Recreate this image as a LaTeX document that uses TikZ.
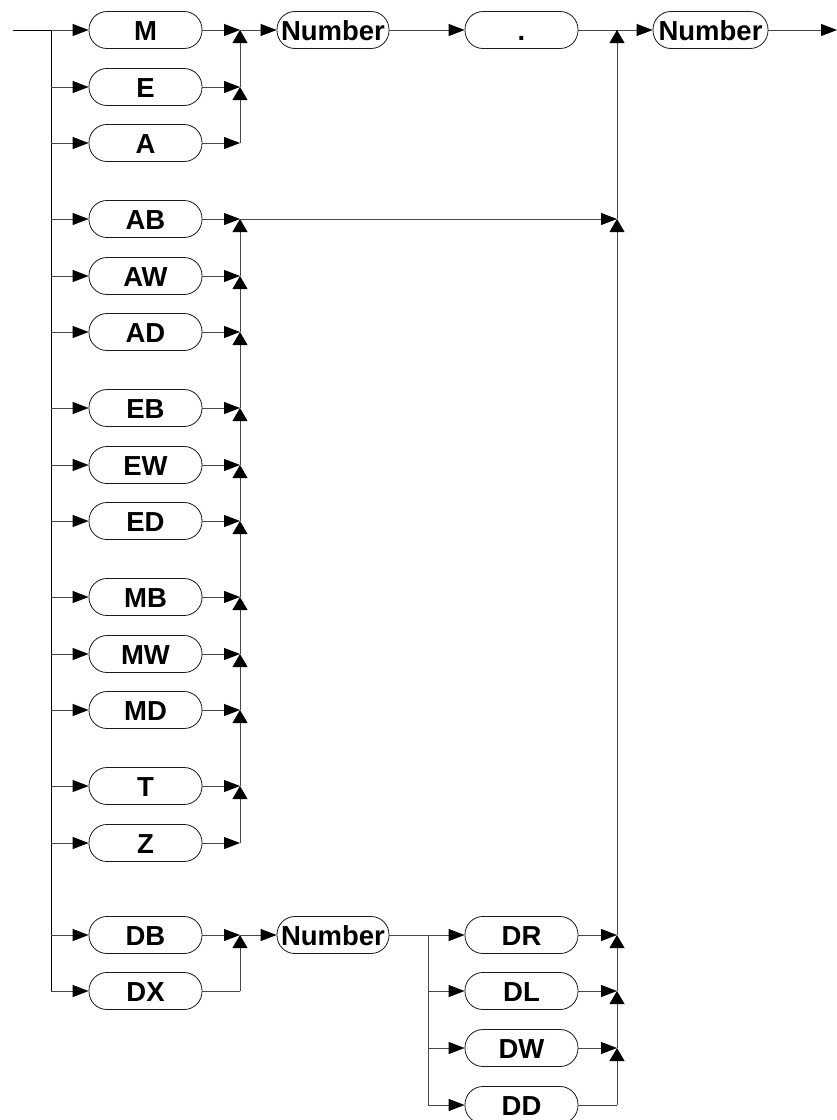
\documentclass[tikz,border=0pt]{standalone}
\usepackage{fontspec}
\setmainfont{Liberation Sans}
\usetikzlibrary{arrows.meta}
\begin{document}
\begin{tikzpicture}[x=1pt,y=-1pt,
  box/.style={draw=black!90,line width=0.8pt,rectangle,rounded corners=18pt,
    minimum height=37pt,minimum width=113pt,inner sep=0pt,
    text height=20pt,text depth=0pt,
    font=\fontsize{27.5}{32}\selectfont\bfseries},
  numbox/.style={box,minimum width=112pt},
  conn/.style={draw=black!72,line width=0.9pt},
  trunk/.style={draw=black,line width=1pt},
  arrR/.style={conn,-{Triangle[length=16pt,width=12pt,color=black]}},
  arrU/.style={conn,-{Triangle[length=13pt,width=15pt,color=black]}},
]
\useasboundingbox (0,0) rectangle (837,1120);

% coordinates for junction columns
\coordinate (tr) at (51,0);
\coordinate (ja) at (240,0);
\coordinate (jb) at (617,0);
\coordinate (jc) at (428,0);
\coordinate (start) at (13,30);
\coordinate (fin) at (837,30);

% left column boxes
\foreach \n/\y in {M/30,E/87,A/143,AB/219,AW/276,AD/332,EB/408,EW/465,ED/521,MB/597,MW/654,MD/710,T/786,Z/843,DB/935,DX/991}
  \node[box] (\n) at (145.5,\y) {\n};

\node[numbox] (N1) at (333,30) {Number};
\node[box] (dot) at (521.5,30) {.};
\node[box,minimum width=115pt] (N2) at (710.5,30) {Number};
\node[numbox] (N3) at (333,935) {Number};
\foreach \n/\y in {DR/935,DL/991,DW/1048,DD/1105}
  \node[box] (\n) at (521.5,\y) {\n};

% trunk
\draw[trunk] (start) -- (tr |- M.west) -- (tr |- DX.west);
\foreach \n in {M,E,A,AB,AW,AD,EB,EW,ED,MB,MW,MD,T,Z,DB,DX}
  \draw[arrR] (tr |- \n.west) -- (\n.west);

% group 1
\foreach \n in {M,E,A}
  \draw[arrR] (\n.east) -- (ja |- \n.east);
\draw[arrU] (ja |- A.east) -- (ja |- E.east);
\draw[arrU] (ja |- E.east) -- (ja |- M.east);
\draw[arrR] (ja |- M.east) -- (N1.west);
\draw[arrR] (N1.east) -- (dot.west);
\draw[arrR] (dot.east) -- (N2.west);
\draw[arrR] (N2.east) -- (fin);

% group 2
\foreach \n in {AB,AW,AD,EB,EW,ED,MB,MW,MD,T,Z}
  \draw[arrR] (\n.east) -- (ja |- \n.east);
\foreach \a/\b in {Z/T,T/MD,MD/MW,MW/MB,MB/ED,ED/EW,EW/EB,EB/AD,AD/AW,AW/AB}
  \draw[arrU] (ja |- \a.east) -- (ja |- \b.east);
\draw[arrR] (ja |- AB.east) -- (jb |- AB.east);
\draw[arrU] (jb |- AB.east) -- (jb |- dot.east);

% group 3
\draw[arrR] (DB.east) -- (ja |- DB.east);
\draw[conn] (DX.east) -- (ja |- DX.east);
\draw[arrU] (ja |- DX.east) -- (ja |- DB.east);
\draw[arrR] (ja |- DB.east) -- (N3.west);
\draw[conn] (N3.east) -- (jc |- N3.east);
\draw[conn] (jc |- DR.west) -- (jc |- DD.west);
\foreach \n in {DR,DL,DW,DD}
  \draw[arrR] (jc |- \n.west) -- (\n.west);
\foreach \n in {DR,DL,DW}
  \draw[arrR] (\n.east) -- (jb |- \n.east);
\draw[conn] (DD.east) -- (jb |- DD.east);
\draw[arrU] (jb |- DD.east) -- (jb |- DW.east);
\draw[arrU] (jb |- DW.east) -- (jb |- DL.east);
\draw[arrU] (jb |- DL.east) -- (jb |- DR.east);
\draw[arrU] (jb |- DR.east) -- (jb |- AB.east);
\end{tikzpicture}
\end{document}
